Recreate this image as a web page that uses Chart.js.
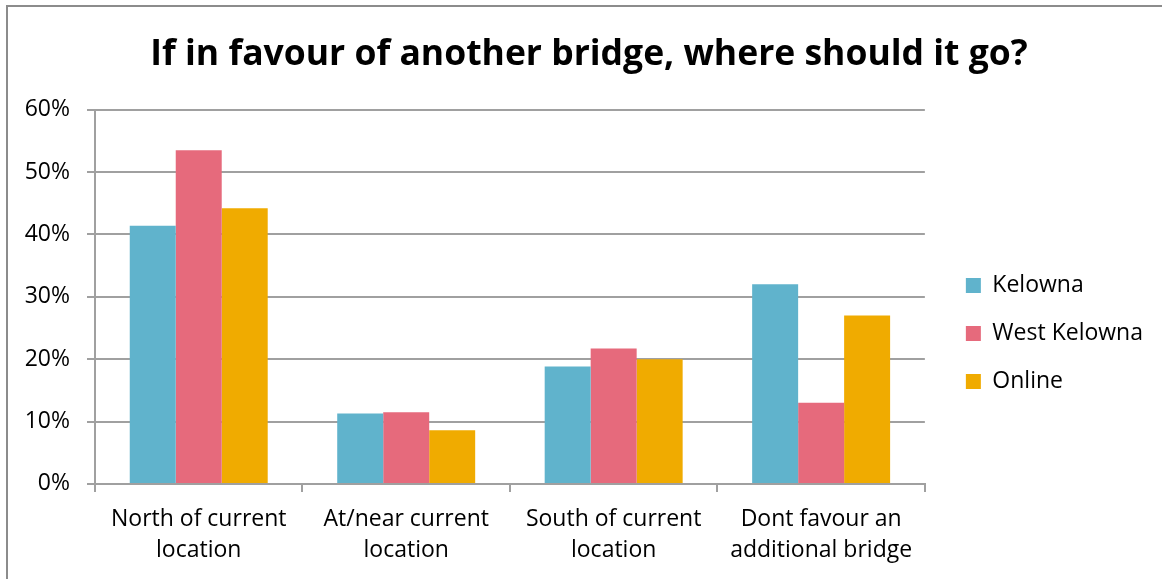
<!DOCTYPE html>
<html>
<head>
<meta charset="utf-8">
<script src="https://cdn.jsdelivr.net/npm/chart.js@4.4.1/dist/chart.umd.min.js"></script>
<style>
  html, body { margin: 0; padding: 0; background: #fff; }
  #wrap { position: relative; width: 1162px; height: 579px; overflow: hidden; }
  #frame { position: absolute; left: 6px; top: 5px; right: -10px; bottom: -10px;
           border-left: 2px solid #8c8c8c; border-top: 2px solid #8c8c8c; }
  canvas { position: absolute; left: 0; top: 0; }
</style>
</head>
<body>
<div id="wrap">
  <div id="frame"></div>
  <canvas id="chart" width="1162" height="579"></canvas>
</div>
<script>
// chart data
const categories = [
    ["North of current", "location"],
    ["At/near current", "location"],
    ["South of current", "location"],
    ["Dont favour an", "additional bridge"]
];
const kelowna = [41.4, 11.3, 18.8, 32.0];
const westKelowna = [53.5, 11.5, 21.7, 13.0];
const online = [44.2, 8.6, 20.0, 27.0];
const yTicks = [0, 10, 20, 30, 40, 50, 60];

const fontFamily = "'Open Sans', 'Noto Sans', sans-serif";
const gridColor = "#a0a0a0";
const legendGap = 16;

// keeps some white space between the plot and the legend
const legendGapPlugin = {
    id: "legendGap",
    beforeInit: function (chart) {
        const legend = chart.legend;
        const fit = legend.fit;
        legend.fit = function () {
            fit.call(this);
            this.width += legendGap;
        };
    },
    afterLayout: function (chart) {
        chart.legend.left += legendGap;
        chart.legend.right += legendGap;
    }
};

const ctx = document.getElementById("chart");

new Chart(ctx, {
    type: "bar",
    data: {
        labels: categories,
        datasets: [
            { label: "Kelowna", data: kelowna, backgroundColor: "#60b3cc" },
            { label: "West Kelowna", data: westKelowna, backgroundColor: "#e66a7c" },
            { label: "Online", data: online, backgroundColor: "#f0ab00" }
        ]
    },
    plugins: [legendGapPlugin],
    options: {
        responsive: false,
        animation: false,
        layout: { padding: { left: 25, right: 9, top: 10, bottom: 1 } },
        datasets: {
            bar: { categoryPercentage: 0.665, barPercentage: 1.0 }
        },
        plugins: {
            title: {
                display: true,
                text: "If in favour of another bridge, where should it go?",
                color: "#000",
                font: { family: fontFamily, size: 35.5, weight: "bold" },
                padding: { top: 24, bottom: 33 }
            },
            legend: {
                position: "right",
                align: "center",
                // empty title only pushes the items down
                title: { display: true, text: "", font: { size: 10 }, padding: { top: 0, bottom: 67 } },
                labels: {
                    color: "#000",
                    font: { family: fontFamily, size: 23 },
                    boxWidth: 15,
                    boxHeight: 15,
                    padding: 25
                }
            },
            tooltip: { enabled: false }
        },
        scales: {
            x: {
                grid: {
                    drawOnChartArea: false,
                    color: gridColor,
                    lineWidth: 2,
                    tickLength: 8,
                    offset: true
                },
                border: { color: gridColor, width: 2 },
                ticks: {
                    color: "#000",
                    font: { family: fontFamily, size: 23, lineHeight: 1.35 },
                    maxRotation: 0,
                    padding: 12
                }
            },
            y: {
                min: 0,
                max: 60,
                grid: { color: gridColor, lineWidth: 2, tickLength: 8 },
                border: { color: gridColor, width: 2 },
                afterBuildTicks: function (axis) {
                    axis.ticks = yTicks.map(v => ({ value: v }));
                },
                afterFit: function (scale) {
                    scale.width = 70;
                },
                ticks: {
                    color: "#000",
                    font: { family: fontFamily, size: 23 },
                    padding: 17,
                    callback: function (value) { return value + "%"; }
                }
            }
        }
    }
});
</script>
</body>
</html>
